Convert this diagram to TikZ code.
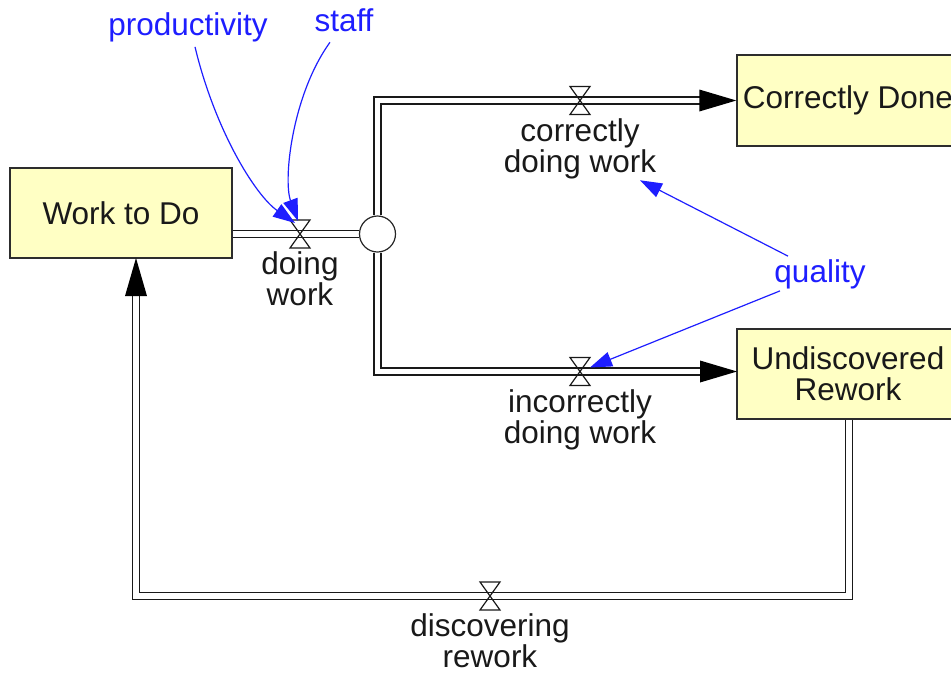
\documentclass[tikz,border=0pt]{standalone}
\usepackage{fontspec}
\setmainfont{Liberation Sans}
\usetikzlibrary{arrows.meta,calc,backgrounds}
\definecolor{stockfill}{RGB}{255,255,196}
\definecolor{stockline}{RGB}{45,45,45}
\definecolor{linkblue}{RGB}{30,30,255}
\definecolor{inktext}{RGB}{25,25,25}
\begin{document}
\begin{tikzpicture}[x=1pt,y=-1pt,
  every node/.style={font=\fontsize{31.5}{31}\selectfont, inner sep=0pt},
  stock/.style={draw=stockline, line width=1.4pt, fill=stockfill, text=inktext, align=center},
  flowtext/.style={text=inktext, align=center, anchor=north},
  auxname/.style={text=linkblue},
  pipe/.style={draw=black!90, line width=1.6pt, double=white, double distance=5.4pt},
  link/.style={draw=linkblue, line width=1.2pt, -{Triangle[length=22pt,width=15pt]}},
  valve/.pic={\draw[black!90, line width=1.2pt] (-10,-14) -- (10,-14) -- (-10,14) -- (10,14) -- cycle;}
]
\useasboundingbox (0,0) rectangle (951,673);
\clip (0,0) rectangle (951,673);

% stocks
\node[stock, minimum width=222pt, minimum height=90pt] (wtd) at (121,213) {Work to Do};
\node[stock, minimum width=222pt, minimum height=91pt] (cd) at (848,100.5) {Correctly Done};
\node[stock, minimum width=222pt, minimum height=90pt] (ur) at (848,374) {Undiscovered\\Rework};

% junction
\node[draw=black!85, line width=1.2pt, fill=white, circle, minimum size=36pt] (jn) at (377.5,234) {};

% valve positions and pipe ends
\coordinate (v1) at (300,234);
\coordinate (v2) at (580,100.5);
\coordinate (v3) at (580,371.5);
\coordinate (v4) at (490,596);
\coordinate (cdtip) at (cd.west);
\coordinate (urtip) at (737,371.5);
\coordinate (ursrc) at (849,419);
\coordinate (wtdtip) at (136,258);

% pipes
\begin{scope}[on background layer]
\draw[pipe] (wtd.east |- jn.west) -- (jn.west);
\draw[pipe] (jn.north) -- (jn.north |- v2) -- ($(cdtip)+(-36,0)$);
\draw[pipe] (jn.south) -- (jn.south |- v3) -- ($(urtip)+(-36,0)$);
\draw[pipe] (ursrc) |- (v4) -| ($(wtdtip)+(0,37)$);
\end{scope}

% flow arrowheads
\fill[black] (cdtip) -- ++(-37,-11) -- ++(0,22) -- cycle;
\fill[black] (urtip) -- ++(-37,-11) -- ++(0,22) -- cycle;
\fill[black] (wtdtip) -- ++(-11,38) -- ++(22,0) -- cycle;

% valves
\pic at (v1) {valve};
\pic at (v2) {valve};
\pic at (v3) {valve};
\pic at (v4) {valve};

% flow names
\node[flowtext] (lv1) at ($(v1)+(0,17)$) {doing\\work};
\node[flowtext] (lv2) at ($(v2)+(0,18)$) {correctly\\doing work};
\node[flowtext] (lv3) at ($(v3)+(0,18)$) {incorrectly\\doing work};
\node[flowtext] (lv4) at ($(v4)+(0,17)$) {discovering\\rework};

% auxiliaries
\node[auxname] (prod) at (188,27) {productivity};
\node[auxname] (staff) at (344,20.5) {staff};
\node[auxname] (qual) at (820,274) {quality};

% information links
\draw[link] ($(prod.south)+(7,5)$) .. controls (215,130) and (255,195) .. ($(v1)+(-5,-11)$);
\draw[link] ($(staff.south)+(-14,10)$) .. controls (292,95) and (283,180) .. ($(v1)+(-2,-13)$);
\draw[link] ($(qual.north)+(-32,-3)$) -- ($(lv2.south)+(60,1)$);
\draw[link] ($(qual.south)+(-40,2)$) -- ($(v3)+(10,-4)$);
\end{tikzpicture}
\end{document}
